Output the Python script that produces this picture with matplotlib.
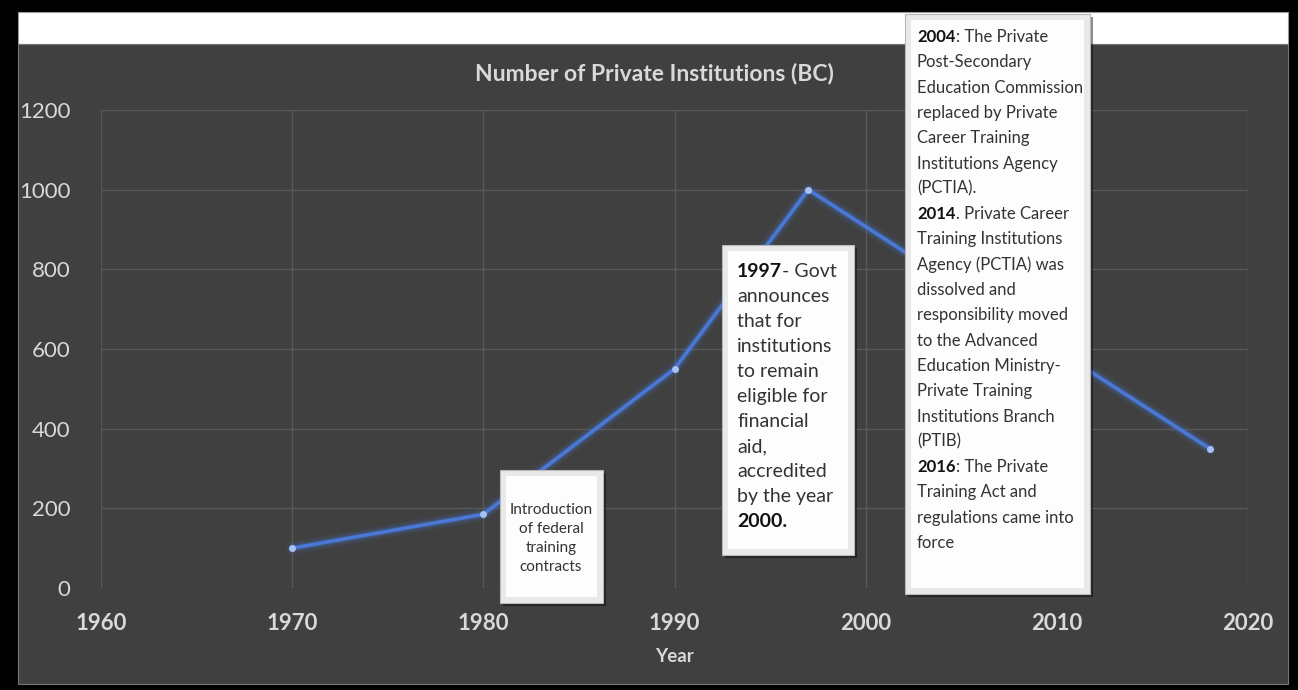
import matplotlib
matplotlib.use('Agg')
import matplotlib.pyplot as plt
from matplotlib.patches import Rectangle
from matplotlib import font_manager

years = [1970, 1980, 1990, 1997, 2018]
institutions = [100, 185, 550, 1000, 350]
x_ticks = [1960, 1970, 1980, 1990, 2000, 2010, 2020]
y_ticks = [0, 200, 400, 600, 800, 1000, 1200]

note_small = ["Introduction", "of federal", "training", "contracts"]
note_1997 = [("1997", "- Govt"), ("", "announces"), ("", "that for"),
             ("", "institutions"), ("", "to remain"), ("", "eligible for"),
             ("", "financial"), ("", "aid,"), ("", "accredited"),
             ("", "by the year"), ("2000.", "")]
note_big = [("2004", ": The Private"), ("", "Post-Secondary"),
            ("", "Education Commission"), ("", "replaced by Private"),
            ("", "Career Training"), ("", "Institutions Agency"),
            ("", "(PCTIA)."), ("2014", ". Private Career"),
            ("", "Training Institutions"), ("", "Agency (PCTIA) was"),
            ("", "dissolved and"), ("", "responsibility moved"),
            ("", "to the Advanced"), ("", "Education Ministry-"),
            ("", "Private Training"), ("", "Institutions Branch"),
            ("", "(PTIB)"), ("2016", ": The Private"),
            ("", "Training Act and"), ("", "regulations came into"),
            ("", "force")]

names = {f.name for f in font_manager.fontManager.ttflist}
FONT = 'Lato' if 'Lato' in names else 'DejaVu Sans'

W, H = 1298, 690
BG = '#404040'
TXT = '#d9d9d9'


def fx(x):
    return x / W


def fy(y):
    return 1 - y / H


fig = plt.figure(figsize=(W / 100, H / 100), dpi=100)
fig.patch.set_facecolor('black')
fig.add_artist(Rectangle((fx(18), fy(44)), fx(1288) - fx(18), fy(12) - fy(44),
                         transform=fig.transFigure, facecolor='white', edgecolor='#999999',
                         lw=0.8, zorder=-2))
fig.add_artist(Rectangle((fx(18), fy(684)), fx(1288) - fx(18), fy(44) - fy(684),
                         transform=fig.transFigure, facecolor=BG, edgecolor='#777777',
                         lw=0.8, zorder=-2))

ax = fig.add_axes([fx(101), fy(588), fx(1248) - fx(101), fy(110) - fy(588)])
ax.set_facecolor(BG)
ax.set_xlim(1960, 2020)
ax.set_ylim(0, 1200)
ax.set_xticks(x_ticks)
ax.set_yticks(y_ticks)
ax.grid(True, color='#595959', lw=1.0)
ax.set_axisbelow(True)
for s in ax.spines.values():
    s.set_visible(False)
ax.tick_params(length=0)
ax.tick_params(axis='y', pad=22, labelsize=16, labelcolor=TXT)
ax.tick_params(axis='x', pad=18, labelsize=16, labelcolor=TXT)
for lab in ax.get_yticklabels():
    lab.set_family(FONT)
for lab in ax.get_xticklabels():
    lab.set_family(FONT)
    lab.set_fontweight('bold')
ax.set_xlabel('Year', family=FONT, fontweight='bold', color=TXT, fontsize=13.5, labelpad=10)

# glow + line
ax.plot(years, institutions, color='#4472c4', lw=9, alpha=0.12, solid_capstyle='round')
ax.plot(years, institutions, color='#4472c4', lw=5.5, alpha=0.25, solid_capstyle='round')
ax.plot(years, institutions, color='#4a78d6', lw=2.6, marker='o', ms=4,
        mfc='#a8c2f5', mec='#a8c2f5')

fig.text(fx(654), fy(73), 'Number of Private Institutions (BC)', family=FONT,
         fontweight='bold', color=TXT, fontsize=16.5, ha='center', va='center')


def bevel_box(x0, y0, x1, y1):
    ax.add_patch(Rectangle((fx(x0 + 3), fy(y1 + 3)), fx(x1) - fx(x0), fy(y0) - fy(y1),
                           transform=fig.transFigure, facecolor='black', alpha=0.45,
                           edgecolor='none', clip_on=False, zorder=5))
    ax.add_patch(Rectangle((fx(x0), fy(y1)), fx(x1) - fx(x0), fy(y0) - fy(y1),
                           transform=fig.transFigure, facecolor='#e9e9e9',
                           edgecolor='#b8b8b8', lw=0.8, clip_on=False, zorder=6))
    ax.add_patch(Rectangle((fx(x0 + 6), fy(y1 - 6)), fx(x1 - 6) - fx(x0 + 6),
                           fy(y0 + 6) - fy(y1 - 6), transform=fig.transFigure,
                           facecolor='#fdfdfd', edgecolor='none', clip_on=False, zorder=7))


def rich_lines(lines, x, y0, step, size):
    for i, (bold, rest) in enumerate(lines):
        y = fy(y0 + i * step)
        t = ax.text(fx(x), y, bold, transform=fig.transFigure, family=FONT,
                    fontweight='bold', fontsize=size, color='#111111', ha='left',
                    va='baseline', zorder=8, clip_on=False)
        if rest:
            ax.annotate(rest, xy=(1, y), xycoords=(t, 'figure fraction'),
                        family=FONT, fontsize=size, color='#333333', ha='left',
                        va='baseline', zorder=8, annotation_clip=False)


bevel_box(500, 470, 603, 603)
for i, line in enumerate(note_small):
    ax.text(fx(551), fy(514 + i * 19), line, transform=fig.transFigure, family=FONT,
            fontsize=11, color='#333333', ha='center', va='baseline', zorder=8,
            clip_on=False)

bevel_box(722, 245, 854, 555)
rich_lines(note_1997, 737, 277, 25, 14)

bevel_box(905, 14, 1090, 594)
rich_lines(note_big, 917, 42, 25.3, 12)

fig.savefig('out.png', dpi=100, facecolor='black')
